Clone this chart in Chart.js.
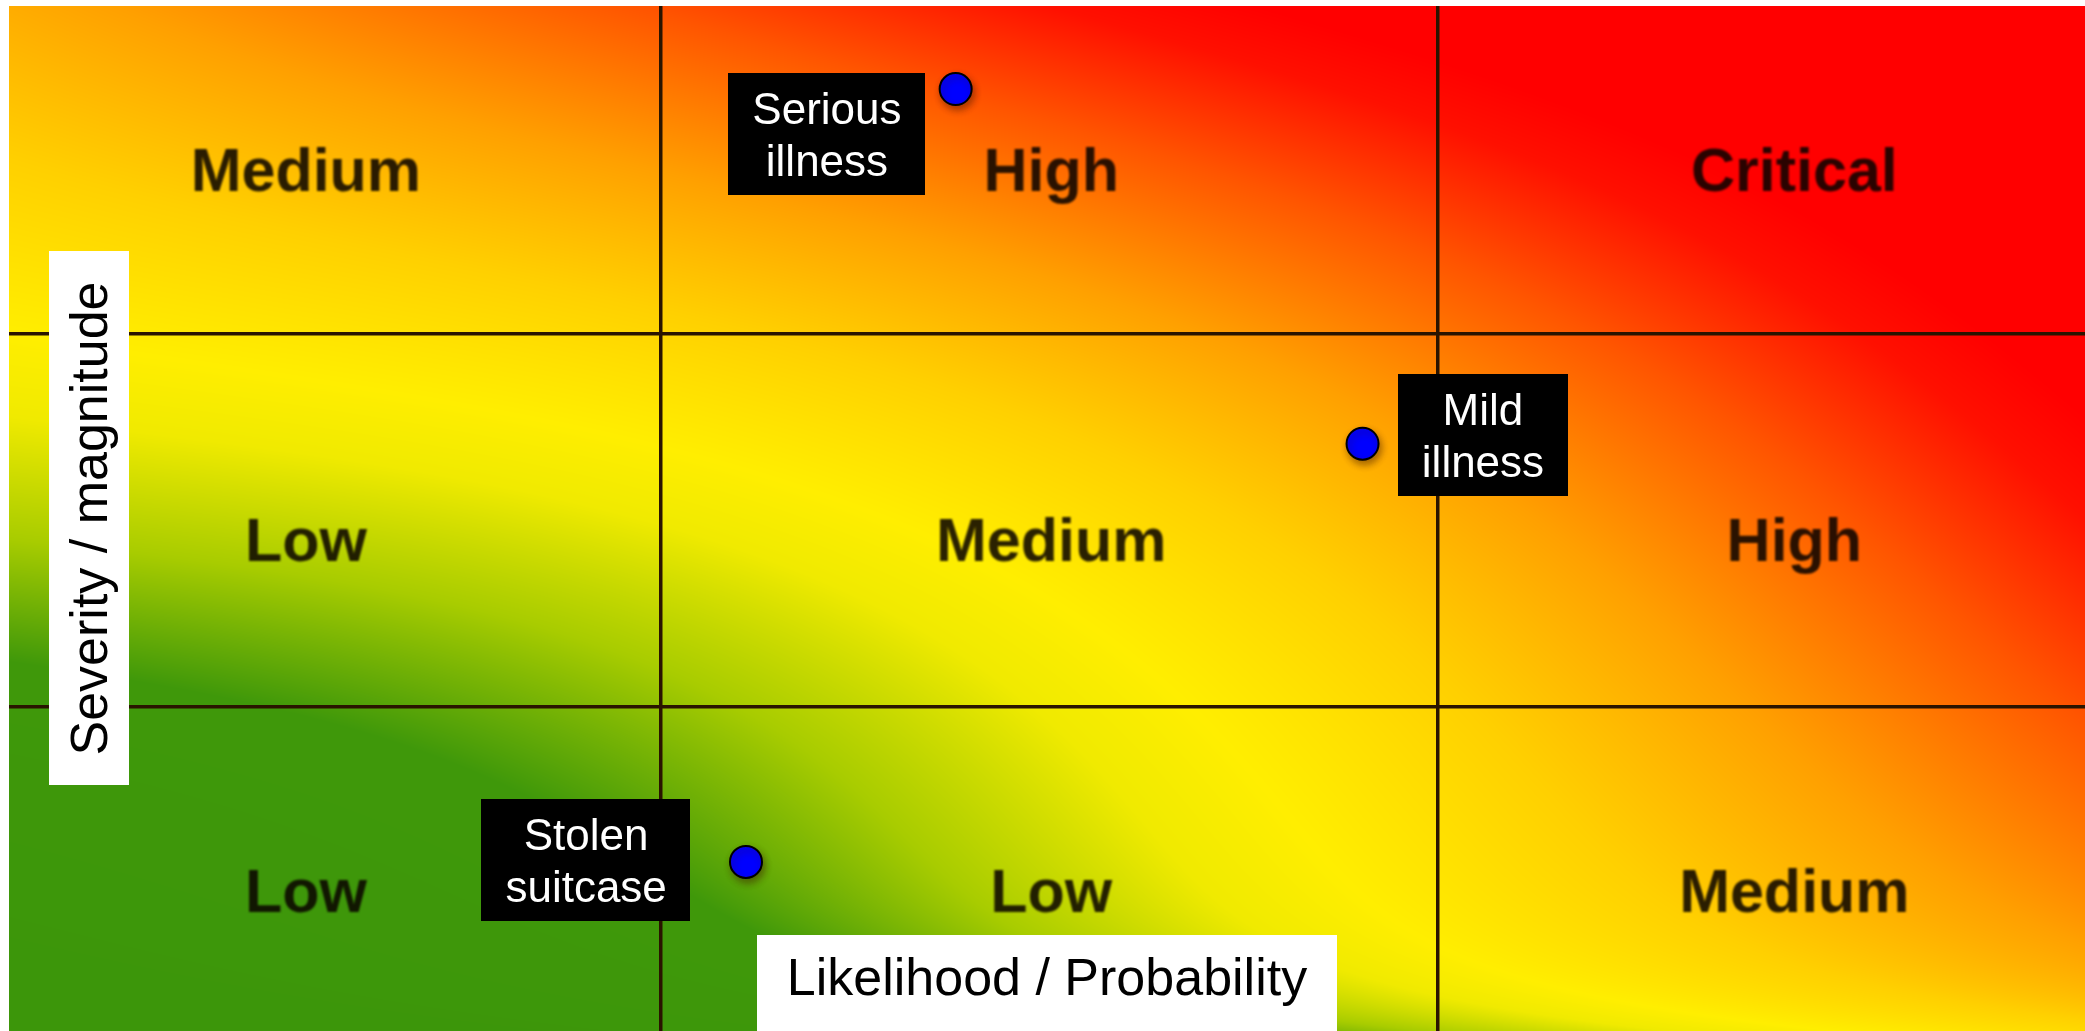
<!DOCTYPE html>
<html>
<head>
<meta charset="utf-8">
<title>Matriz de risco</title>
<script src="https://cdn.jsdelivr.net/npm/chart.js@4.4.1/dist/chart.umd.min.js"></script>
<style>
  html, body { margin: 0; padding: 0; background: #fff; }
  #wrap { width: 2085px; height: 1031px; position: relative; }
</style>
</head>
<body>
<div id="wrap"><canvas id="myChart"></canvas></div>
<script>
// both axes run 0..100 (likelihood across, severity up)
const colEdges = [31.4, 68.8];
const rowEdges = [31.6, 68.0];
const cellLabelX = [14.3, 50.2, 86.0];
const cellLabelY = [13.7, 48.0, 84.1];
// rows from bottom to top
const cellLabels = [
    ['Low', 'Low', 'Medium'],
    ['Low', 'Medium', 'High'],
    ['Medium', 'High', 'Critical']
];

const riskNames = [['Serious', 'illness'], ['Mild', 'illness'], ['Stolen', 'suitcase']];
const riskLikelihood = [45.6, 65.2, 35.5];
const riskSeverity = [91.9, 57.3, 16.5];
const riskLabelX = [39.4, 71.0, 27.8];
const riskLabelY = [87.5, 58.1, 16.7];

const tituloX = 'Likelihood / Probability';
const tituloY = 'Severity / magnitude';

const fonte = '"Liberation Sans", Arial, Helvetica, sans-serif';

// colour ramp of the heat background: [risk level, r, g, b]
const rampa = [
    [0.00, 60, 150, 10],
    [0.36, 63, 152, 10],
    [0.48, 168, 204, 0],
    [0.60, 240, 234, 0],
    [0.68, 255, 238, 0],
    [0.85, 255, 208, 0],
    [1.05, 255, 160, 0],
    [1.30, 255, 85, 0],
    [1.50, 255, 16, 0],
    [1.60, 255, 0, 0]
];

function nivelDeRisco(u, v) {
    return u + v
        - 0.25 * Math.sin(Math.PI * u) * Math.sin(Math.PI * v)
        - 0.2 * Math.exp(-v / 0.05);
}

function corDoNivel(r) {
    if (r <= rampa[0][0]) return rampa[0].slice(1);
    for (let k = 1; k < rampa.length; k++) {
        if (r <= rampa[k][0]) {
            const a = rampa[k - 1], b = rampa[k];
            const t = (r - a[0]) / (b[0] - a[0]);
            return [a[1] + (b[1] - a[1]) * t, a[2] + (b[2] - a[2]) * t, a[3] + (b[3] - a[3]) * t];
        }
    }
    return rampa[rampa.length - 1].slice(1);
}

let fundoCache;

const fundo = {
    id: 'fundo',
    beforeDraw(chart) {
        const { ctx, chartArea: a, scales: { x, y } } = chart;
        const w = Math.round(a.right - a.left);
        const h = Math.round(a.bottom - a.top);
        if (!fundoCache || fundoCache.width !== w || fundoCache.height !== h) {
            fundoCache = document.createElement('canvas');
            fundoCache.width = w;
            fundoCache.height = h;
            const c2 = fundoCache.getContext('2d');
            const img = c2.createImageData(w, h);
            const us = [];
            for (let i = 0; i < w; i++) us.push(x.getValueForPixel(a.left + i + 0.5) / 100);
            for (let j = 0; j < h; j++) {
                const v = y.getValueForPixel(a.top + j + 0.5) / 100;
                for (let i = 0; i < w; i++) {
                    const cor = corDoNivel(nivelDeRisco(us[i], v));
                    const p = (j * w + i) * 4;
                    img.data[p] = cor[0];
                    img.data[p + 1] = cor[1];
                    img.data[p + 2] = cor[2];
                    img.data[p + 3] = 255;
                }
            }
            c2.putImageData(img, 0, 0);
        }
        ctx.drawImage(fundoCache, a.left, a.top);
    }
};

const rotulosDasCelulas = {
    id: 'rotulosDasCelulas',
    beforeDatasetsDraw(chart) {
        const { ctx, scales: { x, y } } = chart;
        const tam = 61;
        ctx.save();
        ctx.font = `bold ${tam}px ${fonte}`;
        ctx.textAlign = 'center';
        ctx.textBaseline = 'alphabetic';
        ctx.fillStyle = 'rgba(10, 4, 0, 0.87)';
        ctx.filter = 'blur(1.3px)';
        cellLabels.forEach((linha, r) => {
            linha.forEach((texto, c) => {
                const px = x.getPixelForValue(cellLabelX[c]);
                const py = y.getPixelForValue(cellLabelY[r]) + tam * 0.716 / 2;
                ctx.fillText(texto, px, py);
            });
        });
        ctx.restore();
    }
};

const sombraDosPontos = {
    id: 'sombraDosPontos',
    beforeDatasetDraw(chart) {
        const ctx = chart.ctx;
        ctx.save();
        ctx.shadowColor = 'rgba(60, 20, 0, 0.45)';
        ctx.shadowBlur = 7;
        ctx.shadowOffsetX = 2;
        ctx.shadowOffsetY = 4;
    },
    afterDatasetDraw(chart) {
        chart.ctx.restore();
    }
};

const caixasDosRiscos = {
    id: 'caixasDosRiscos',
    afterDatasetsDraw(chart) {
        const { ctx, scales: { x, y } } = chart;
        const tam = 44;
        const entreLinhas = 52;
        const altura = 122;
        ctx.save();
        ctx.font = `${tam}px ${fonte}`;
        ctx.textAlign = 'center';
        ctx.textBaseline = 'alphabetic';
        riskNames.forEach((linhas, i) => {
            const cx = x.getPixelForValue(riskLabelX[i]);
            const cy = y.getPixelForValue(riskLabelY[i]);
            const largura = Math.max(...linhas.map(l => ctx.measureText(l).width)) + 48;
            ctx.fillStyle = '#000';
            ctx.fillRect(Math.round(cx - largura / 2), Math.round(cy - altura / 2), Math.round(largura), altura);
            ctx.fillStyle = '#fff';
            linhas.forEach((l, k) => {
                const meio = cy + (k - (linhas.length - 1) / 2) * entreLinhas;
                ctx.fillText(l, cx, meio + tam * 0.716 / 2);
            });
        });
        ctx.restore();
    }
};

const titulosDosEixos = {
    id: 'titulosDosEixos',
    afterDraw(chart) {
        const { ctx, chartArea: a } = chart;
        const tam = 52;
        ctx.save();
        ctx.font = `${tam}px ${fonte}`;
        ctx.textAlign = 'center';
        ctx.textBaseline = 'alphabetic';

        // horizontal title, sitting on the bottom edge
        const lx = ctx.measureText(tituloX).width + 60;
        const hx = 96;
        const cx = (a.left + a.right) / 2;
        ctx.fillStyle = '#fff';
        ctx.fillRect(Math.round(cx - lx / 2), a.bottom - hx, Math.round(lx), hx);
        ctx.fillStyle = '#000';
        ctx.fillText(tituloX, cx, a.bottom - hx / 2 + 12);

        // vertical title on the left
        const ly = ctx.measureText(tituloY).width + 60;
        const wy = 80;
        const cy = (a.top + a.bottom) / 2;
        const bx = a.left + 40;
        ctx.fillStyle = '#fff';
        ctx.fillRect(bx, Math.round(cy - ly / 2), wy, Math.round(ly));
        ctx.translate(bx + wy / 2, cy);
        ctx.rotate(-Math.PI / 2);
        ctx.fillStyle = '#000';
        ctx.fillText(tituloY, 0, 18);
        ctx.restore();
    }
};

const ctx = document.querySelector('#myChart');

new Chart(ctx, {
    type: 'scatter',
    data: {
        datasets: [{
            label: 'Riscos',
            data: riskLikelihood.map((v, i) => ({ x: v, y: riskSeverity[i] })),
            pointRadius: 16,
            pointHoverRadius: 16,
            pointBorderWidth: 2,
            pointBackgroundColor: '#0000ff',
            pointBorderColor: '#000',
            clip: false
        }]
    },
    options: {
        responsive: true,
        maintainAspectRatio: false,
        animation: false,
        devicePixelRatio: 1,
        layout: { autoPadding: false, padding: { left: 9, top: 6, right: 0, bottom: 0 } },
        plugins: {
            legend: { display: false },
            tooltip: { enabled: false }
        },
        scales: {
            x: {
                type: 'linear',
                min: 0,
                max: 100,
                afterBuildTicks: axis => { axis.ticks = colEdges.map(v => ({ value: v })); },
                ticks: { display: false },
                border: { display: false },
                grid: { color: '#2a1400', lineWidth: 3.5, drawTicks: false }
            },
            y: {
                type: 'linear',
                min: 0,
                max: 100,
                afterBuildTicks: axis => { axis.ticks = rowEdges.map(v => ({ value: v })); },
                ticks: { display: false },
                border: { display: false },
                grid: { color: '#2a1400', lineWidth: 3.5, drawTicks: false }
            }
        }
    },
    plugins: [fundo, rotulosDasCelulas, sombraDosPontos, caixasDosRiscos, titulosDosEixos]
});
</script>
</body>
</html>
